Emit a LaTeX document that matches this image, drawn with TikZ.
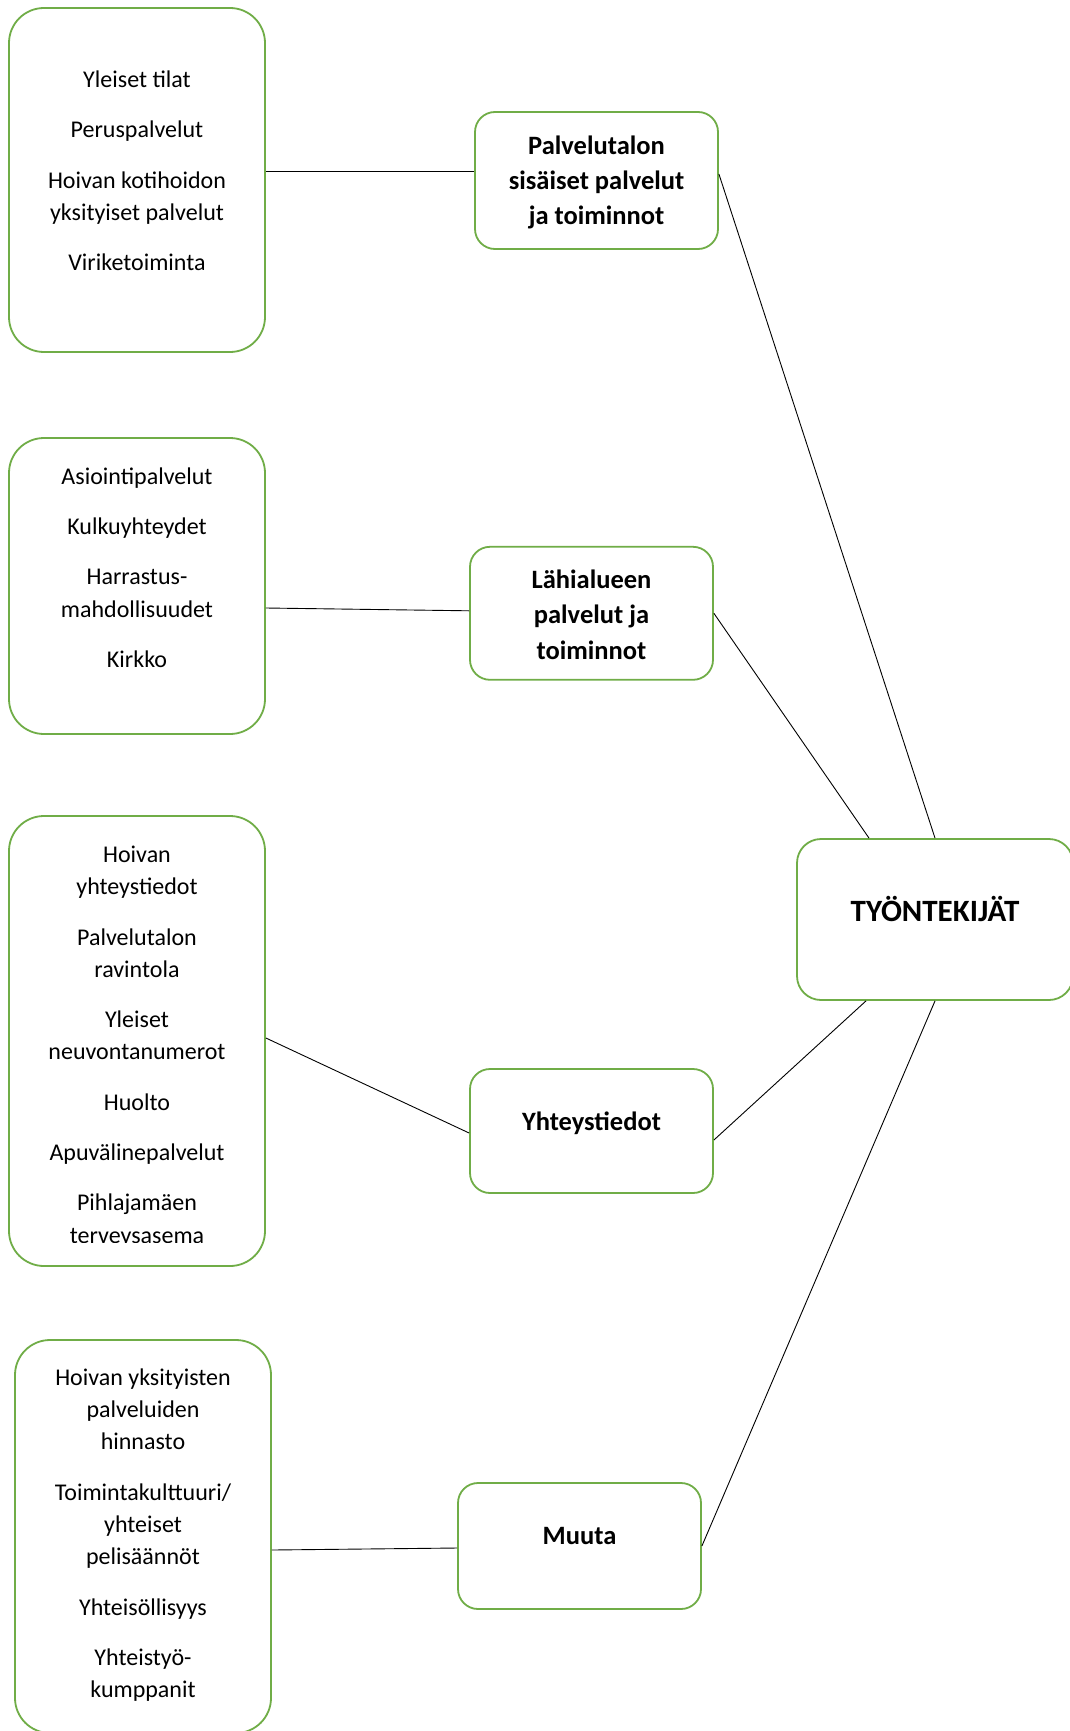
\documentclass[tikz,border=0pt]{standalone}
\usepackage{fontspec}
\setmainfont{Carlito}
\definecolor{boxgreen}{HTML}{70AD47}
\begin{document}
\begin{tikzpicture}[x=1pt,y=-1pt,
  lbox/.style={draw=boxgreen,line width=1.8pt,rounded corners=35pt,minimum width=256pt,inner sep=0pt},
  rbox/.style={draw=boxgreen,line width=1.8pt,rounded corners=20pt,minimum width=243pt,inner sep=0pt},
  ltext/.style={align=center,font=\fontsize{24}{32.3}\selectfont,inner sep=0pt},
  rtext/.style={align=center,font=\bfseries\fontsize{26.5}{35.3}\selectfont,inner sep=0pt},
  link/.style={draw=black,line width=0.9pt}]
\clip (0,0) rectangle (1070,1731);
\fill[white] (0,0) rectangle (1070,1731);
% left boxes
\node[lbox,minimum height=344pt] (l1) at (137,180) {};
\node[lbox,minimum height=296pt] (l2) at (137,586) {};
\node[lbox,minimum height=450pt] (l3) at (137,1041) {};
\node[lbox,minimum height=393pt] (l4) at (143,1536.5) {};
% right boxes
\node[rbox,minimum height=137pt] (b1) at (596.5,180.5) {};
\node[rbox,minimum height=133pt] (b2) at (591.5,613.3) {};
\node[rbox,minimum height=124pt] (b3) at (591.5,1131) {};
\node[rbox,minimum height=126pt] (b4) at (579.5,1546) {};
\node[draw=boxgreen,line width=1.8pt,rounded corners=24pt,minimum width=276pt,minimum height=161pt,inner sep=0pt] (t) at (935,919.5) {};
% texts
\node[ltext] (l1t) at (137,171) {Yleiset tilat\\[18pt]Peruspalvelut\\[18pt]Hoivan kotihoidon\\yksityiset palvelut\\[18pt]Viriketoiminta};
\node[ltext] (l2t) at (137,567.5) {Asiointipalvelut\\[18pt]Kulkuyhteydet\\[18pt]Harrastus-\\mahdollisuudet\\[18pt]Kirkko};
\begin{scope}
\clip (9,816) rectangle (265,1242);
\node[ltext] (l3t) at (137,1046.5) {Hoivan\\yhteystiedot\\[18pt]Palvelutalon\\ravintola\\[18pt]Yleiset\\neuvontanumerot\\[18pt]Huolto\\[18pt]Apuvälinepalvelut\\[18pt]Pihlajamäen\\terveysasema};
\end{scope}
\node[ltext] (l4t) at (143,1535) {Hoivan yksityisten\\palveluiden\\hinnasto\\[18pt]Toimintakulttuuri/\\yhteiset\\pelisäännöt\\[18pt]Yhteisöllisyys\\[18pt]Yhteistyö-\\kumppanit};
\node[rtext] (b1t) at (596.5,182.5) {Palvelutalon\\sisäiset palvelut\\ja toiminnot};
\node[rtext] (b2t) at (591.5,614.5) {Lähialueen\\palvelut ja\\toiminnot};
\node[rtext] (b3t) at (591.5,1123) {Yhteystiedot};
\node[rtext] (b4t) at (579.5,1536) {Muuta};
\node[rtext,font=\bfseries\fontsize{31}{37}\selectfont] (tt) at (935,909) {TYÖNTEKIJÄT};
% connectors
\coordinate (b1w) at ([yshift=9.5pt]b1.west);
\draw[link] (l1.east |- b1w) -- (b1w);
\draw[link] ([yshift=-22pt]l2.east) -- ([yshift=2.5pt]b2.west);
\draw[link] ([yshift=3pt]l3.east) -- ([yshift=-2pt]b3.west);
\draw[link] ([yshift=-13.5pt]l4.east) -- ([yshift=-2pt]b4.west);
\draw[link] ([yshift=6.5pt]b1.east) -- (t.north);
\draw[link] (b2.east) -- ([xshift=-66pt]t.north);
\draw[link] ([yshift=-9pt]b3.east) -- ([xshift=-69pt]t.south);
\draw[link] (b4.east) -- (t.south);
\end{tikzpicture}
\end{document}
